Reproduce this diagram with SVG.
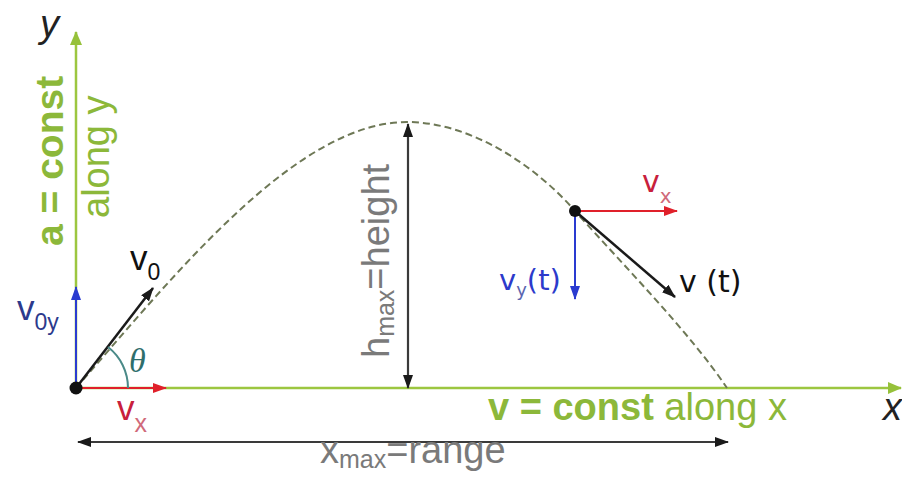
<svg xmlns="http://www.w3.org/2000/svg" width="902" height="483" viewBox="0 0 902 483">
<style>
.axis{stroke:#9cc640;stroke-width:2.5;fill:none}
.traj{stroke:#6e7856;stroke-width:2;fill:none;stroke-dasharray:7 4}
.blk{stroke:#1a1a1a;stroke-width:2.5;fill:none}
.dim{stroke:#3a3a3a;stroke-width:2.2;fill:none}
.red{stroke:#e0202a;stroke-width:2;fill:none}
.blue{stroke:#2a3bd0;stroke-width:2;fill:none}
.arc{stroke:#4a8a88;stroke-width:2;fill:none}
text{font-family:"Liberation Sans",Arial,sans-serif}
.grn{fill:#8cb83a;font-size:38px}
.gray{fill:#7a7a7a;font-size:38px}
.dv{font-family:"DejaVu Sans",Verdana,sans-serif}
</style>
<defs>
<marker id="mG" viewBox="0 0 14 12" refX="13" refY="6" markerWidth="14" markerHeight="12" markerUnits="userSpaceOnUse" orient="auto-start-reverse"><path d="M0,0 L14,6 L0,12 Z" fill="#96c13a"/></marker>
<marker id="mK" viewBox="0 0 14 10" refX="13" refY="5" markerWidth="14" markerHeight="10" markerUnits="userSpaceOnUse" orient="auto-start-reverse"><path d="M0,0 L14,5 L0,10 Z" fill="#1a1a1a"/></marker>
<marker id="mR" viewBox="0 0 14 10" refX="13" refY="5" markerWidth="14" markerHeight="10" markerUnits="userSpaceOnUse" orient="auto"><path d="M0,0 L14,5 L0,10 Z" fill="#e0202a"/></marker>
<marker id="mB" viewBox="0 0 14 10" refX="13" refY="5" markerWidth="14" markerHeight="10" markerUnits="userSpaceOnUse" orient="auto"><path d="M0,0 L14,5 L0,10 Z" fill="#2a3bd0"/></marker>
</defs>
<rect width="902" height="483" fill="#ffffff"/>

<g id="axes">
<line class="axis" x1="76" y1="390" x2="76" y2="32" marker-end="url(#mG)"/>
<line class="axis" x1="74" y1="388" x2="901" y2="388" marker-end="url(#mG)"/>
<text x="40" y="37" style="font-style:italic;font-size:38px;fill:#222">y</text>
<text x="883" y="420" style="font-style:italic;font-size:38px;fill:#222">x</text>
<text class="grn" transform="translate(63,246) rotate(-90)" style="font-weight:bold;font-size:39px">a = const</text>
<text class="grn" transform="translate(109,218) rotate(-90)">along y</text>
<text class="grn" x="488" y="420"><tspan style="font-weight:bold">v = const</tspan> along x</text>
</g>

<g id="trajectory">
<path class="traj" d="M76,388 C176,273 297,122 407,122 C470,122 535,165 575,211 C625,267 690,333 727,388"/>
</g>

<g id="connectors">
<line class="dim" x1="408" y1="124" x2="408" y2="388" marker-start="url(#mK)" marker-end="url(#mK)"/>
<line class="dim" x1="78" y1="442" x2="728" y2="442" marker-start="url(#mK)" marker-end="url(#mK)"/>
<line class="blue" x1="76" y1="388" x2="76" y2="287" marker-end="url(#mB)"/>
<line class="blk" x1="76" y1="388" x2="153" y2="288" marker-end="url(#mK)"/>
<line class="red" x1="76" y1="388" x2="166" y2="388" marker-end="url(#mR)"/>
<path class="arc" d="M128,388 A52,52 0 0 0 108,347"/>
<line class="red" x1="575" y1="211" x2="677" y2="211" marker-end="url(#mR)"/>
<line class="blue" x1="575" y1="211" x2="575" y2="299" marker-end="url(#mB)"/>
<line class="blk" x1="575" y1="211" x2="675" y2="297" marker-end="url(#mK)"/>
</g>

<g id="launch-point">
<circle cx="76" cy="388" r="6.5" fill="#111"/>
<text x="130" y="270" style="font-size:35px;fill:#111">v<tspan style="font-size:23px" dy="10">0</tspan></text>
<text x="17" y="320" style="font-size:35px;fill:#2c3a8c">v<tspan style="font-size:23px" dy="10">0y</tspan></text>
<text x="117" y="420" style="font-size:35px;fill:#c8203c">v<tspan style="font-size:25px;fill:#d06a7a" dy="12">x</tspan></text>
<text x="129" y="372" style="font-family:'Liberation Serif',serif;font-style:italic;font-size:34px;fill:#2f6e6c">θ</text>
</g>

<g id="height-label">
<text class="gray" transform="translate(389,358) rotate(-90)">h<tspan style="font-size:25px" dy="5">max</tspan><tspan dy="-5">=height</tspan></text>
</g>

<g id="range-label">
<text class="gray" x="320" y="463">x<tspan style="font-size:25px" dy="5">max</tspan><tspan dy="-5">=range</tspan></text>
</g>

<g id="point-t">
<circle cx="575" cy="211" r="6" fill="#111"/>
<text class="dv" x="642" y="192" style="font-size:30px;fill:#c8203c">v<tspan style="font-size:20px;fill:#d06a7a" dy="11">x</tspan></text>
<text class="dv" x="499" y="290" style="font-size:29px;fill:#2c3acb">v<tspan style="font-size:18px;fill:#5a64b0" dy="6">y</tspan><tspan dy="-6">(t)</tspan></text>
<text class="dv" x="679" y="292" style="font-size:30px;fill:#111">v (t)</text>
</g>
</svg>
